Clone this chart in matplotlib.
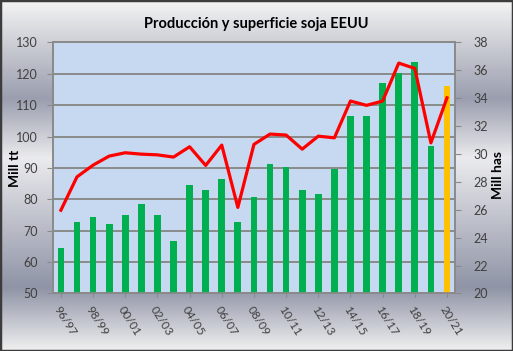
import numpy as np
import matplotlib
matplotlib.use('Agg')
import matplotlib.pyplot as plt
from matplotlib.colors import LinearSegmentedColormap
from matplotlib.patches import Rectangle

# campaigns (every one of them is a bar, only every second one is labelled)
campaigns = ['96/97', '97/98', '98/99', '99/00', '00/01', '01/02', '02/03', '03/04',
             '04/05', '05/06', '06/07', '07/08', '08/09', '09/10', '10/11', '11/12',
             '12/13', '13/14', '14/15', '15/16', '16/17', '17/18', '18/19', '19/20',
             '20/21']

# production, Mill tt (left axis)
produccion = [64.4, 72.8, 74.4, 72.1, 74.9, 78.5, 74.9, 66.7,
              84.6, 83.1, 86.6, 72.7, 80.6, 91.3, 90.4, 83.0,
              81.8, 89.6, 106.7, 106.7, 117.0, 120.2, 123.7, 96.9,
              116.0]

# area, Mill has (right axis)
superficie = [25.97, 28.36, 29.2, 29.85, 30.09, 29.99, 29.94, 29.78,
              30.52, 29.18, 30.64, 26.17, 30.69, 31.43, 31.36, 30.35,
              31.28, 31.16, 33.8, 33.49, 33.8, 36.52, 36.14, 30.8,
              34.03]

plt.rcParams['font.family'] = ['Lato', 'DejaVu Sans']

fig = plt.figure(figsize=(5.13, 3.51), dpi=100)

# metallic gradient background
bg = fig.add_axes([0, 0, 1, 1], zorder=-10)
stops = [(0.0, '#f4f4f4'), (0.28, '#9a9eae'), (0.45, '#ebebee'),
         (0.82, '#8f94a6'), (1.0, '#f0f0f0')]
cmap_bg = LinearSegmentedColormap.from_list('bg', stops)
grad = np.linspace(0, 1, 256).reshape(-1, 1)
bg.imshow(grad, aspect='auto', cmap=cmap_bg, extent=[0, 1, 0, 1], origin='upper')
bg.set_axis_off()
fig.patches.append(Rectangle((0, 0), 1, 1, transform=fig.transFigure, fill=False,
                             edgecolor='#3c3c3c', linewidth=2.5))

ax = fig.add_axes([0.103, 0.164, 0.784, 0.715])
ax.set_facecolor('#c6d9f0')
x = np.arange(len(campaigns))
colors = ['#00b050'] * (len(campaigns) - 1) + ['#ffc000']
ax.bar(x, produccion, width=0.42, color=colors, zorder=3)
ax.set_ylim(50, 130)
ax.set_yticks(range(50, 131, 10))
ax.set_xlim(-0.5, len(campaigns) - 0.5)
ax.grid(axis='y', color='#8a8a8a', linewidth=1.4, zorder=0)
ax.set_axisbelow(True)

ax.set_xticks(x[::2])
ax.set_xticklabels(campaigns[::2], rotation=-58, ha='left', va='top',
                   rotation_mode='anchor', fontsize=8.5, color='#404040')
ax.tick_params(axis='x', length=3, color='#8a8a8a', pad=5)
ax.tick_params(axis='y', length=4, color='#8a8a8a', labelsize=9, labelcolor='#404040', pad=7)
ax.set_ylabel('Mill tt', fontsize=10, fontweight='bold')
ax.yaxis.set_label_coords(-0.095, 0.5)
ax.yaxis.label.set_va('center')

for s in ax.spines.values():
    s.set_color('#8a8a8a')
    s.set_linewidth(1.2)

ax2 = ax.twinx()
ax2.plot(x, superficie, color='#ff0000', linewidth=2.3, zorder=5)
ax2.set_ylim(20, 38)
ax2.set_yticks(range(20, 39, 2))
ax2.tick_params(axis='y', length=4, color='#8a8a8a', labelsize=9, labelcolor='#404040', pad=9)
ax2.set_ylabel('Mill has', fontsize=10, fontweight='bold')
ax2.yaxis.set_label_coords(1.107, 0.47)
ax2.yaxis.label.set_va('center')
for s in ax2.spines.values():
    s.set_color('#8a8a8a')
    s.set_linewidth(1.2)

fig.text(0.5, 0.933, 'Producción y superficie soja EEUU', ha='center', va='center',
         fontsize=10.5, fontweight='bold')

fig.savefig('out.png', dpi=100)
